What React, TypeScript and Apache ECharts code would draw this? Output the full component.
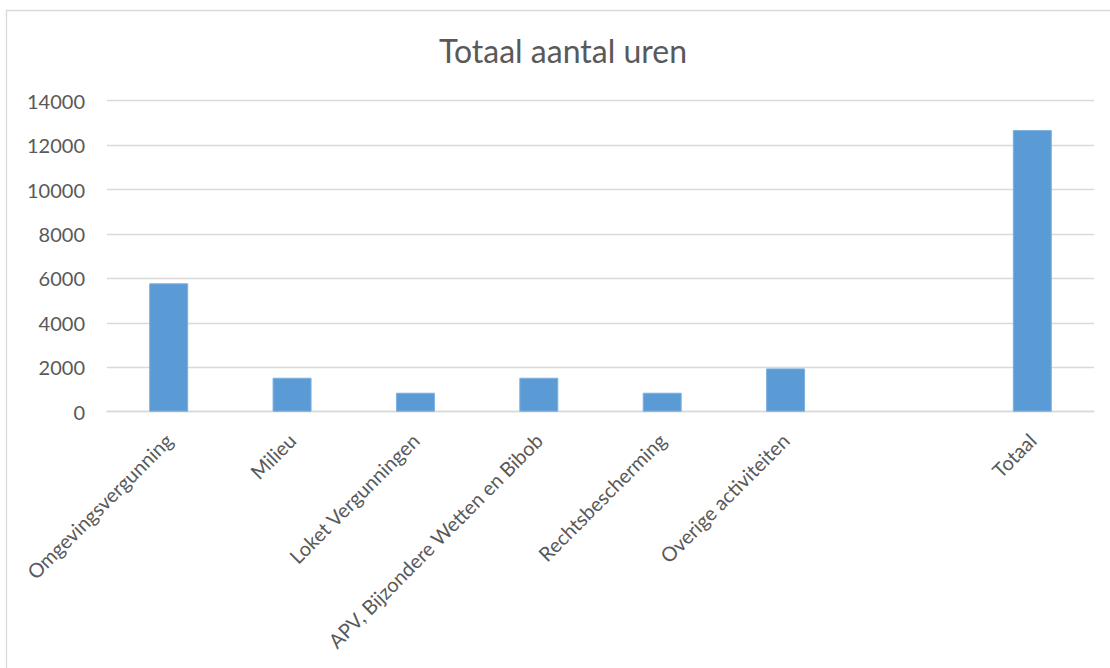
import React, { useEffect, useRef } from "react";
import * as echarts from "echarts";

const categories = [
  "Omgevingsvergunning",
  "Milieu",
  "Loket Vergunningen",
  "APV, Bijzondere Wetten en Bibob",
  "Rechtsbescherming",
  "Overige activiteiten",
  "",
  "Totaal",
];
const hours = [5780, 1530, 855, 1530, 855, 1950, null, 12680];
const titleText = "Totaal aantal uren";
const FONT = "Lato, 'Liberation Sans', sans-serif";

export default function App() {
  const ref = useRef<HTMLDivElement>(null);
  useEffect(() => {
    if (!ref.current) return;
    const chart = echarts.init(ref.current, undefined, { renderer: "svg" });
    chart.setOption({
      animation: false,
      backgroundColor: "#ffffff",
      textStyle: { fontFamily: FONT },
      graphic: [
        {
          type: "rect",
          shape: { x: 6.5, y: 10.5, width: 1200, height: 800 },
          style: { fill: "none", stroke: "#d9d9d9", lineWidth: 1.3 },
          silent: true,
          z: -1,
        },
        {
          type: "text",
          x: 563,
          y: 50,
          style: {
            text: titleText,
            fill: "#595959",
            font: `32px ${FONT}`,
            textAlign: "center",
            textVerticalAlign: "middle",
          },
        },
      ],
      grid: { left: 107, right: 16, top: 100.7, bottom: 256.3, containLabel: false },
      xAxis: {
        type: "category",
        data: categories,
        axisLine: { show: true, lineStyle: { color: "#d9d9d9", width: 1.3 } },
        axisTick: { show: false },
        axisLabel: {
          interval: 0,
          rotate: 45,
          margin: 25,
          color: "#595959",
          fontSize: 20,
          fontFamily: FONT,
        },
      },
      yAxis: {
        type: "value",
        min: 0,
        max: 14000,
        interval: 2000,
        axisLine: { show: false },
        axisTick: { show: false },
        splitLine: { lineStyle: { color: "#d9d9d9", width: 1.3 } },
        axisLabel: {
          margin: 22,
          color: "#595959",
          fontSize: 20,
          fontFamily: FONT,
          formatter: (v: number) => String(v),
        },
      },
      series: [
        {
          type: "bar",
          data: hours,
          barWidth: 39,
          itemStyle: { color: "#5b9bd5", borderColor: "#7eb1e0", borderWidth: 1 },
        },
      ],
    });
    return () => chart.dispose();
  }, []);
  return (
    <div
      ref={ref}
      style={{ position: "fixed", left: 0, top: 0, width: 1110, height: 668 }}
    />
  );
}
